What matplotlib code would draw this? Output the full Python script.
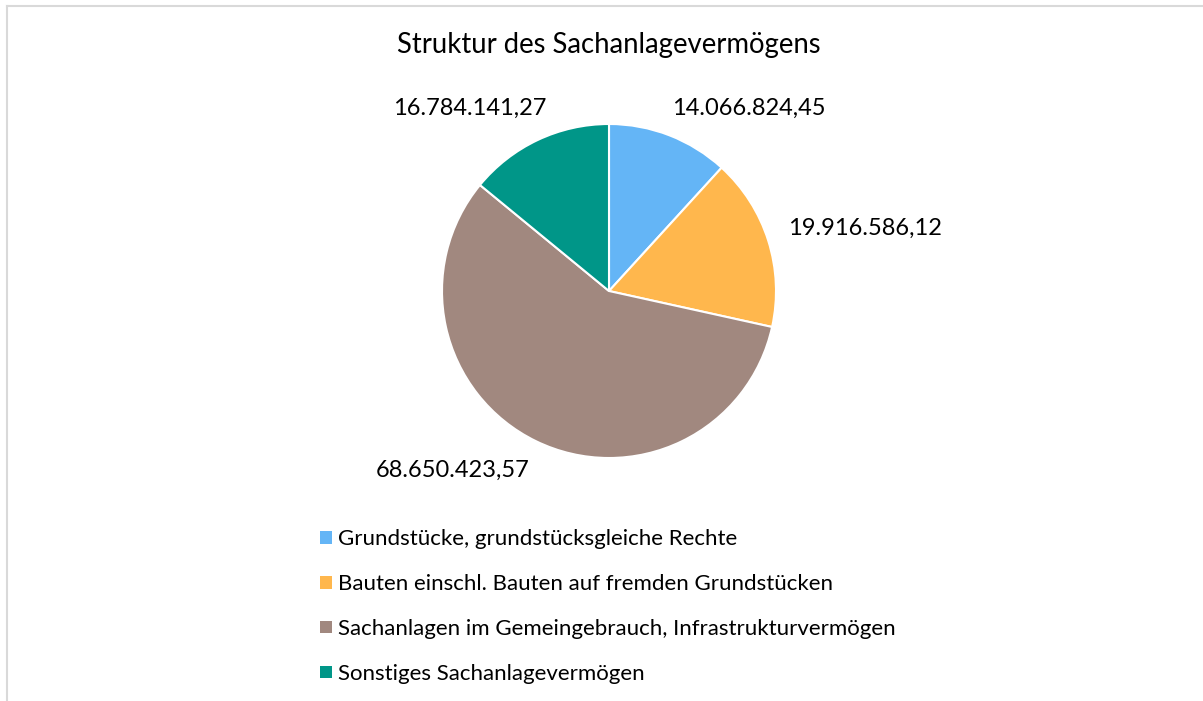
import matplotlib
matplotlib.use("Agg")
import matplotlib.pyplot as plt
from matplotlib.patches import Patch
from matplotlib.lines import Line2D

categories = [
    "Grundstücke, grundstücksgleiche Rechte",
    "Bauten einschl. Bauten auf fremden Grundstücken",
    "Sachanlagen im Gemeingebrauch, Infrastrukturvermögen",
    "Sonstiges Sachanlagevermögen",
]
values = [14066824.45, 19916586.12, 68650423.57, 16784141.27]
value_labels = ["14.066.824,45", "19.916.586,12", "68.650.423,57", "16.784.141,27"]
colors = ["#64B5F6", "#FFB74D", "#A1887F", "#009688"]
title = "Struktur des Sachanlagevermögens"

plt.rcParams['font.family'] = ['Lato', 'DejaVu Sans']

W, H = 1203, 701
fig = plt.figure(figsize=(W / 100, H / 100), dpi=100)
fig.patch.set_facecolor("white")

# light frame lines (top and left)
fig.add_artist(Line2D([7 / W, 7 / W], [0, 1 - 6 / H], color="#D9D9D9", lw=1.5))
fig.add_artist(Line2D([7 / W, 1], [1 - 6 / H, 1 - 6 / H], color="#D9D9D9", lw=1.5))

cx, cy, r = 609, 291, 167
ax = fig.add_axes([(cx - r) / W, 1 - (cy + r) / H, 2 * r / W, 2 * r / H])
wedges, texts = ax.pie(values, colors=colors, startangle=90, counterclock=False,
                       labels=value_labels, labeldistance=1.3,
                       wedgeprops=dict(edgecolor="white", linewidth=1.5),
                       textprops=dict(fontsize=17, color="#000000"))
ax.set_xlim(-1, 1)
ax.set_ylim(-1, 1)
ax.set_aspect("equal")

# label pixel positions (centres) as in the reference
label_px = [(749, 108), (865, 228), (453, 470), (470, 108)]
for t, (px, py) in zip(texts, label_px):
    t.set_position(((px - cx) / r, (cy - py) / r))
    t.set_ha("center")
    t.set_va("center")

fig.text(cx / W, 1 - 45 / H, title, ha="center", va="center", fontsize=19.8, color="#000000")

handles = [Patch(facecolor=c, edgecolor="none") for c in colors]
fig.legend(handles, categories, loc="center left",
           bbox_to_anchor=(316 / W, 1 - 606.5 / H), frameon=False,
           fontsize=16, handlelength=0.5, handleheight=0.5, handletextpad=0.3,
           labelspacing=1.12, borderaxespad=0, borderpad=0.2)

fig.savefig("out.png", dpi=100, facecolor="white")
